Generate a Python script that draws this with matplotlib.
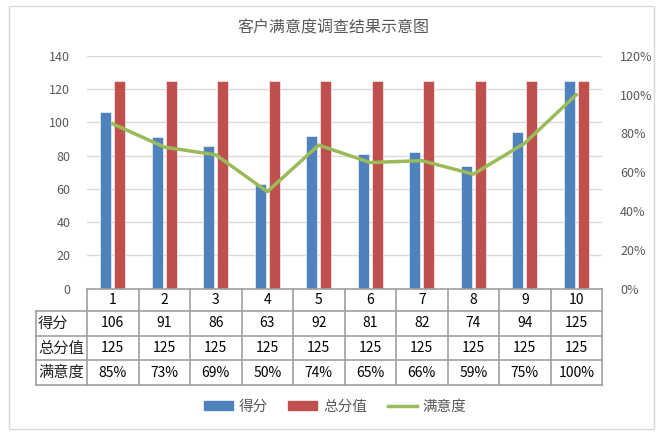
import numpy as np
import matplotlib.pyplot as plt
from matplotlib.transforms import blended_transform_factory
from matplotlib.patches import Patch, Rectangle
from matplotlib.lines import Line2D
from matplotlib.ticker import PercentFormatter

plt.rcParams['font.family'] = ['Noto Sans CJK SC', 'DejaVu Sans']

# data
categories = ['1', '2', '3', '4', '5', '6', '7', '8', '9', '10']
scores = [106, 91, 86, 63, 92, 81, 82, 74, 94, 125]
totals = [125, 125, 125, 125, 125, 125, 125, 125, 125, 125]
satisfaction = [85, 73, 69, 50, 74, 65, 66, 59, 75, 100]
row_names = ['得分', '总分值', '满意度']
title = '客户满意度调查结果示意图'

blue = '#4F81BD'
red = '#C0504D'
green = '#9BBB59'
grid_c = '#D9D9D9'
tab_c = '#A0A0A0'
txt_c = '#595959'

W, H = 666, 434
fig = plt.figure(figsize=(W / 100, H / 100), dpi=100)

# chart frame
fig.patches.append(Rectangle((8.5 / W, 1 - 428.5 / H), (654 - 8.5) / W, (428.5 - 5.5) / H,
                             transform=fig.transFigure, fill=False, edgecolor=grid_c, lw=1))

ax = fig.add_axes([87 / W, 1 - 288.5 / H, (602 - 87) / W, (288.5 - 56) / H])
x = np.arange(len(categories))
w = 0.215
ax.bar(x - 0.14, scores, w, color=blue, edgecolor='white', linewidth=0.4, zorder=2)
ax.bar(x + 0.14, totals, w, color=red, edgecolor='white', linewidth=0.4, zorder=2)
ax.set_xlim(-0.5, len(categories) - 0.5)
ax.set_ylim(0, 140)
ax.set_yticks(range(0, 141, 20))
ax.grid(axis='y', color=grid_c, lw=1)
ax.set_axisbelow(True)
ax.set_xticks([])
for s in ax.spines.values():
    s.set_visible(False)
ax.tick_params(axis='y', length=0, pad=12, labelsize=9, labelcolor=txt_c)

ax2 = ax.twinx()
ax2.plot(x, np.array(satisfaction) / 100, color=green, lw=2.5, zorder=3)
ax2.set_ylim(0, 1.2)
ax2.set_yticks(np.arange(0, 1.21, 0.2))
ax2.yaxis.set_major_formatter(PercentFormatter(1.0, decimals=0))
for s in ax2.spines.values():
    s.set_visible(False)
ax2.tick_params(axis='y', length=0, pad=13, labelsize=9, labelcolor=txt_c)

# data table under the plot
tr = blended_transform_factory(ax.transData, ax.transAxes)
rows_y = [0, -0.097, -0.203, -0.309, -0.415]
x0, x1 = -1.5, len(categories) - 0.5
lk = dict(color=tab_c, lw=1.2, transform=tr, clip_on=False)
ax.plot([-0.5, x1], [rows_y[0], rows_y[0]], **lk)
for yy in rows_y[1:]:
    ax.plot([x0, x1], [yy, yy], **lk)
for k in range(len(categories) + 1):
    xx = -0.5 + k
    ax.plot([xx, xx], [rows_y[0], rows_y[-1]], **lk)
ax.plot([x0, x0], [rows_y[1], rows_y[-1]], **lk)

row_vals = [[str(v) for v in scores], [str(v) for v in totals], [f'{v}%' for v in satisfaction]]
for i, c in enumerate(categories):
    ax.text(i, (rows_y[0] + rows_y[1]) / 2, c, ha='center', va='center', fontsize=10,
            color='black', transform=tr)
for r, name in enumerate(row_names):
    yc = (rows_y[r + 1] + rows_y[r + 2]) / 2
    ax.text(x0 + 0.05, yc, name, ha='left', va='center', fontsize=11, color='#222222', transform=tr)
    for i, v in enumerate(row_vals[r]):
        ax.text(i, yc, v, ha='center', va='center', fontsize=10, color='black', transform=tr)

fig.text(333 / W, 1 - 28 / H, title, ha='center', va='center', fontsize=11.5, color=txt_c)

handles = [Patch(color=blue), Patch(color=red), Line2D([], [], color=green, lw=2.5)]
fig.legend(handles, ['得分', '总分值', '满意度'], loc='center', bbox_to_anchor=(0.503, 1 - 407 / H),
           ncol=3, frameon=False, fontsize=10.5, handlelength=2.0, handleheight=0.6,
           columnspacing=1.4, handletextpad=0.4, labelcolor=txt_c)

fig.savefig('out.png', dpi=100)
